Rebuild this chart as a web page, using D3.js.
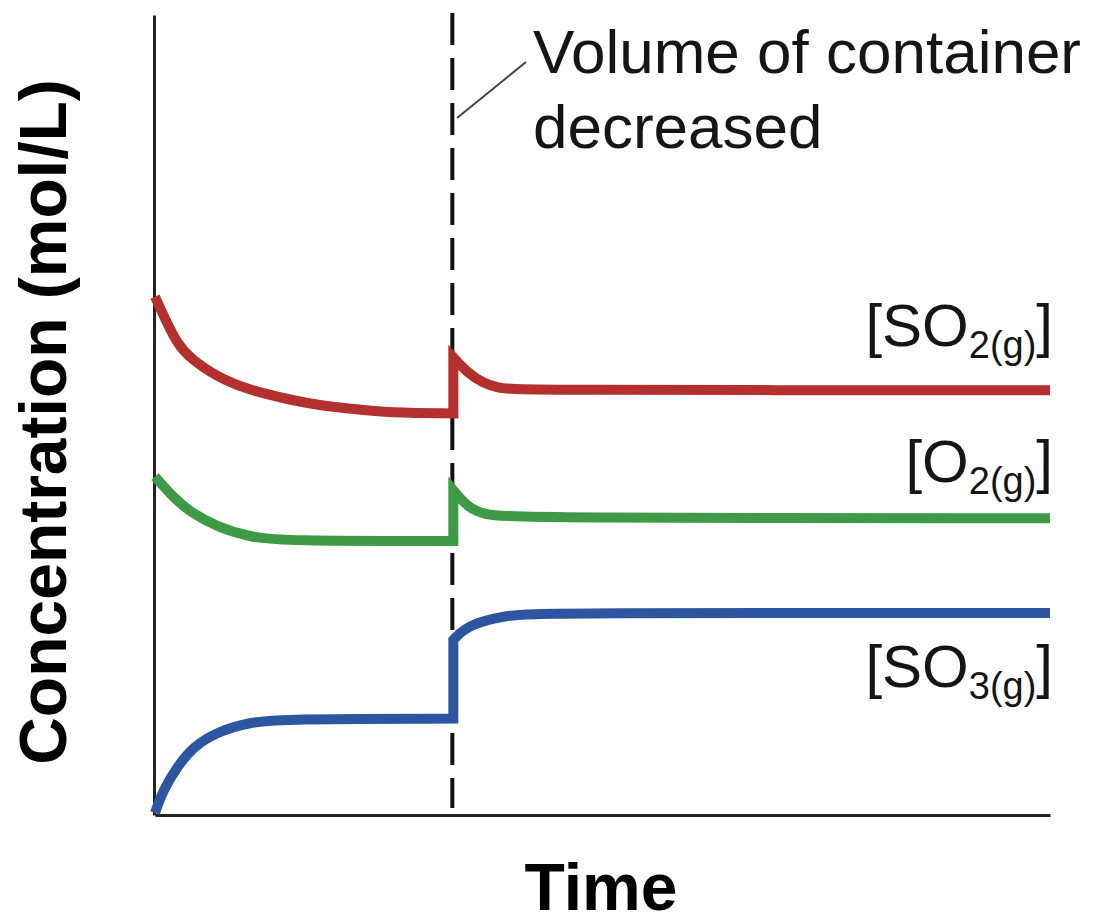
<!DOCTYPE html>
<html>
<head>
<meta charset="utf-8">
<script src="https://cdn.jsdelivr.net/npm/d3@7"></script>
<style>
  body { margin: 0; background: #fff; }
  svg { display: block; font-family: "Liberation Sans", Arial, sans-serif; }
</style>
</head>
<body>
<div id="chart"></div>
<script>
// Data (time in arbitrary units, concentration in arbitrary units)
var changeTime = 10;

var so2Before = [[0, 64.8], [0.4, 61.5], [0.74, 59.0], [1.17, 57.1], [2.08, 54.75], [3.18, 53.1], [4.29, 52.1], [5.43, 51.25], [6.54, 50.8], [7.88, 50.25], [10, 50.2]];
var so2After = [[10, 57.2], [10.5, 55.2], [11, 54.0], [11.5, 53.4], [12, 53.1], [30, 53.1]];

var o2Before = [[0, 42.3], [0.6, 39.75], [1.17, 37.9], [2.08, 36.0], [3.18, 34.75], [4.29, 34.25], [10, 34.25]];
var o2After = [[10, 40.6], [10.5, 38.4], [11, 37.6], [12, 37.1], [30, 37.1]];

var so3Before = [[0, 0.25], [0.27, 3.1], [0.74, 6.0], [1.27, 8.5], [2.08, 10.4], [3.18, 11.6], [4.29, 12.0], [10, 12.05]];
var so3After = [[10, 21.9], [10.5, 23.8], [11.8, 25.0], [13, 25.25], [30, 25.25]];

var seriesNames = ["SO2", "O2", "SO3"];
var seriesColors = ["#b3302f", "#3f9a47", "#2e559f"];
var labelMain = ["[SO", "[O", "[SO"];
var labelSub = ["2(g)", "2(g)", "3(g)"];
var labelBaseline = [346, 482, 687];

var noteLines = ["Volume of container", "decreased"];

// Layout
var width = 1104, height = 923;
var svg = d3.select("#chart").append("svg")
    .attr("width", width)
    .attr("height", height);

var x = d3.scaleLinear().domain([0, 30]).range([155, 1050]);
var y = d3.scaleLinear().domain([0, 100]).range([815, 15]);

// Dashed marker for the volume change
svg.append("line")
    .attr("x1", x(changeTime) - 1)
    .attr("x2", x(changeTime) - 1)
    .attr("y1", 13)
    .attr("y2", 808)
    .attr("stroke", "#111")
    .attr("stroke-width", 4)
    .attr("stroke-dasharray", "32,13");

// Axes, no ticks
svg.append("g")
    .attr("transform", "translate(154,0)")
    .call(d3.axisLeft(y).tickValues([]).tickSizeOuter(0))
    .select(".domain").attr("stroke", "#222").attr("stroke-width", 3);

svg.append("g")
    .attr("transform", "translate(0,815)")
    .call(d3.axisBottom(x).tickValues([]).tickSizeOuter(0))
    .select(".domain").attr("stroke", "#222").attr("stroke-width", 3);

// Curves: smooth before / after, joined by the vertical jump
var line = d3.line()
    .x(function(d) { return x(d[0]); })
    .y(function(d) { return y(d[1]); })
    .curve(d3.curveBasis);

var series = [[so2Before, so2After], [o2Before, o2After], [so3Before, so3After]];

series.forEach(function(s, i) {
    var path = line(s[0]) + line(s[1]).replace(/^M/, "L");
    svg.append("path")
        .attr("class", "curve " + seriesNames[i])
        .attr("d", path)
        .attr("fill", "none")
        .attr("stroke", seriesColors[i])
        .attr("stroke-width", 10)
        .attr("stroke-linejoin", "miter")
        .attr("stroke-linecap", "butt");
});

// Series labels
var labels = svg.selectAll(".seriesLabel")
    .data(seriesNames)
    .enter()
    .append("text")
    .attr("class", "seriesLabel")
    .attr("x", 1053)
    .attr("y", function(d, i) { return labelBaseline[i]; })
    .attr("text-anchor", "end")
    .attr("fill", "#151515")
    .attr("font-size", 60);

labels.append("tspan").text(function(d, i) { return labelMain[i]; });
labels.append("tspan")
    .attr("font-size", 38)
    .attr("dy", 12)
    .text(function(d, i) { return labelSub[i]; });
labels.append("tspan")
    .attr("dy", -12)
    .text("]");

// Annotation
svg.append("line")
    .attr("x1", 457).attr("y1", 118)
    .attr("x2", 526).attr("y2", 62)
    .attr("stroke", "#444")
    .attr("stroke-width", 2);

svg.selectAll(".note")
    .data(noteLines)
    .enter()
    .append("text")
    .attr("class", "note")
    .attr("x", 533)
    .attr("y", function(d, i) { return 73 + i * 75; })
    .attr("fill", "#151515")
    .attr("font-size", 62)
    .text(function(d) { return d; });

// Axis titles
svg.append("text")
    .attr("transform", "translate(66,422) rotate(-90)")
    .attr("text-anchor", "middle")
    .attr("font-size", 66)
    .attr("font-weight", "bold")
    .attr("fill", "#000")
    .text("Concentration (mol/L)");

svg.append("text")
    .attr("x", 601)
    .attr("y", 910)
    .attr("text-anchor", "middle")
    .attr("font-size", 66)
    .attr("font-weight", "bold")
    .attr("fill", "#000")
    .text("Time");
</script>
</body>
</html>
